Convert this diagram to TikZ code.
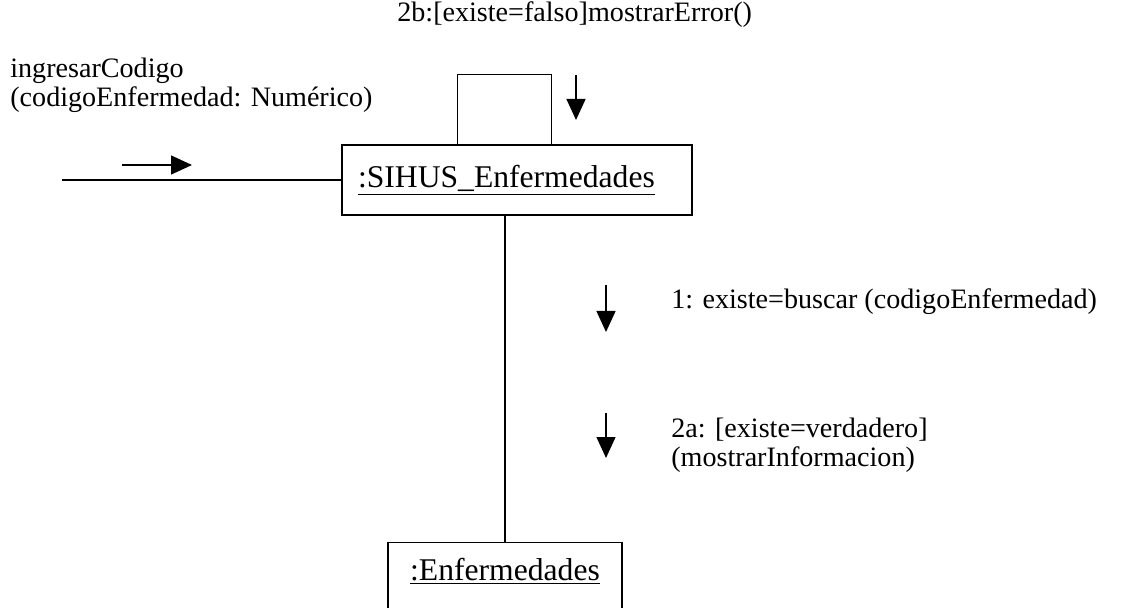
\documentclass[tikz,border=0pt]{standalone}
\usepackage{fontspec}
\setmainfont{Liberation Serif}
\usepackage{tikz}
\usetikzlibrary{arrows.meta,calc,positioning}
\usepackage{xcolor}
\definecolor{ColLine}{HTML}{000000}
\definecolor{ColText}{HTML}{000000}

\begin{document}
\begin{tikzpicture}[
  x=0.02cm,
  y=0.02cm,
  >=Latex,
  objeto/.style={
    draw=ColLine,
    fill=white,
    line width=0.8pt,
    font=\fontsize{18}{20}\selectfont,
    text=ColText
  },
  enlace/.style={
    draw=ColLine,
    line width=0.8pt
  },
  msg/.style={
    -{Triangle[length=0.42cm,width=0.38cm]},
    draw=ColLine,
    line width=0.8pt
  },
  etiqueta/.style={
    align=left,
    inner sep=0pt,
    font=\fontsize{16}{16.5}\selectfont,
    text=ColText
  }
]

\clip (0,0) rectangle (1125,608);

\node[objeto,minimum width=7cm,minimum height=1.4cm,text width=6.36cm,
  inner xsep=0.32cm,align=left] (sihus) at (517,428)
  {\underline{:SIHUS\_Enfermedades}};

\node[objeto,anchor=north,minimum width=4.68cm,text width=4.28cm,
  inner xsep=0.2cm,inner ysep=0.44cm,text height=0.32cm,text depth=1.2cm,
  align=center] (enf) at (505,66)
  {\underline{:Enfermedades}};

\coordinate (inicio) at (62,428);
\draw[enlace] (inicio) -- (sihus.west);
\draw[enlace] (enf.north) -- (enf.north |- sihus.south);
\draw[enlace] ($(sihus.north west)+(116,0)$) -- ++(0,70) -- ++(94,0)
  -- ($(sihus.north west)+(210,0)$);

\coordinate (m0) at (122,443);
\coordinate (m2b) at (576,533);
\coordinate (m1) at (606,323);
\coordinate (m2a) at (606,195);
\draw[msg] (m0) -- ++(70,0);
\draw[msg] (m2b) -- ++(0,-45);
\draw[msg] (m1) -- ++(0,-47);
\draw[msg] (m2a) -- ++(0,-45);

\node[etiqueta,anchor=west] (t0) at (10,523)
  {ingresarCodigo\\(codigoEnfermedad: Numérico)};
\node[etiqueta,anchor=west] (t2b) at (397,593)
  {2b:[existe=falso]mostrarError()};
\node[etiqueta,anchor=west] (t1) at (671,306)
  {1: existe=buscar (codigoEnfermedad)};
\node[etiqueta,anchor=west] (t2a) at (671,163)
  {2a: [existe=verdadero]\\(mostrarInformacion)};

\end{tikzpicture}
\end{document}
